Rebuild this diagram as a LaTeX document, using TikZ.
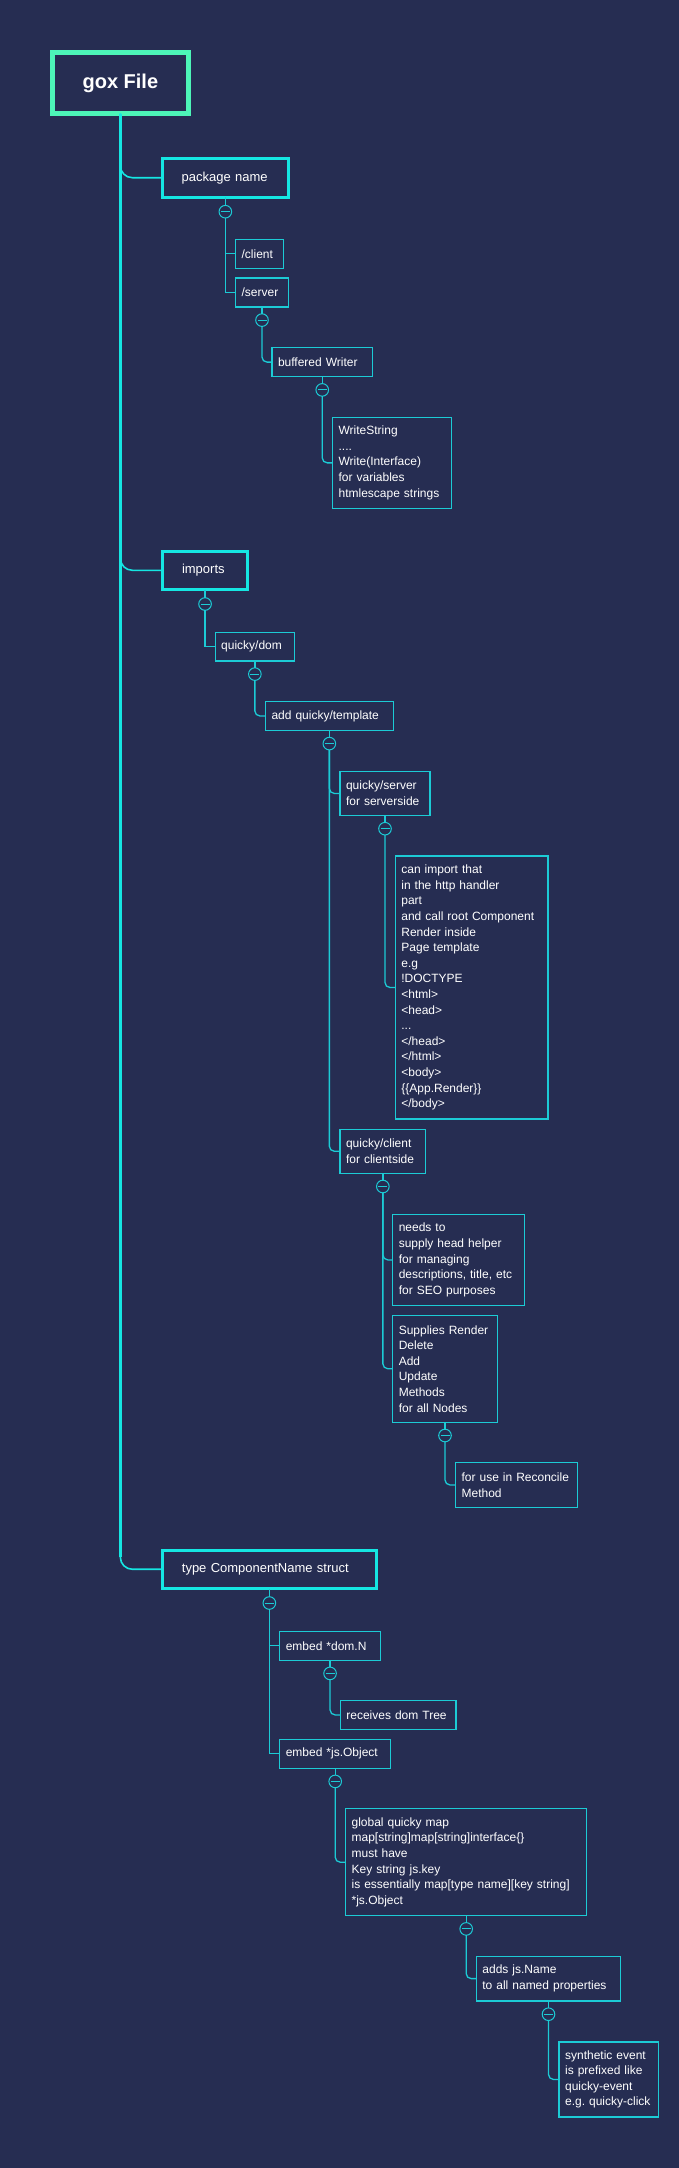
\documentclass[tikz,border=0pt]{standalone}
\usepackage{fontspec}
\setmainfont{Liberation Sans}
\usetikzlibrary{calc}
\definecolor{bg}{HTML}{262D52}
\definecolor{mint}{HTML}{4DF5B8}
\definecolor{cyanA}{HTML}{15E6E2}
\definecolor{tealB}{HTML}{1CCBD5}
\hyphenpenalty=10000
\exhyphenpenalty=10000
\frenchspacing
\begin{document}
\begin{tikzpicture}[x=1pt,y=-1pt,
  base/.style={fill=bg, text=white, anchor=north west, outer sep=0pt, align=left, inner ysep=0pt},
  rootbox/.style={draw=mint, line width=4.7pt, fill=bg, text=white, outer sep=0pt, inner sep=0pt,
    font=\fontsize{20}{24}\selectfont\bfseries},
  topbox/.style={base, draw=cyanA, line width=3pt, inner xsep=19.4pt, font=\fontsize{13}{16}\selectfont},
  subbox/.style={base, draw=tealB, line width=1.3pt, inner xsep=6pt, font=\fontsize{12}{15.6}\selectfont},
  tog/.style={circle, draw=tealB, line width=1pt, fill=bg, minimum size=12.6pt, inner sep=0pt, outer sep=0pt,
    path picture={\draw[tealB, line width=1pt] ($(path picture bounding box.center)+(-4.5,0)$) -- ($(path picture bounding box.center)+(4.5,0)$);}},
  trunk/.style={draw=cyanA, line width=3pt},
  branch/.style={draw=cyanA, line width=1.6pt, rounded corners=12pt},
  link/.style={draw=tealB, line width=1.3pt},
  rlink/.style={link, rounded corners=5pt},
]
\fill[bg] (0,0) rectangle (679,2168);
\useasboundingbox (0,0) rectangle (679,2168);

% root
\node[rootbox, minimum width=135.9pt, minimum height=61.2pt] (gox) at (120.35,83) {gox File};

% top level
\node[topbox, text width=87.5pt, minimum height=39pt] (pkg) at (162.2,158.2) {package name};
\node[topbox, text width=46.1pt, minimum height=38.4pt] (imp) at (162.6,551.1) {imports};
\node[topbox, text width=174.9pt, minimum height=38.5pt] (typ) at (162.5,1550) {type ComponentName struct};

% package subtree
\node[subbox, text width=36.1pt, minimum height=29pt] (client) at (235.6,239.3) {/client};
\node[subbox, text width=40.8pt, minimum height=29pt] (server) at (235.6,277.9) {/server};
\node[subbox, text width=88.5pt, minimum height=29.2pt] (bwriter) at (272,347.5) {buffered Writer};
\node[subbox, text width=106.7pt, minimum height=90.9pt] (wstring) at (332.6,417.4)
  {WriteString\\....\\Write(Interface)\\for variables\\htmlescape strings};

% imports subtree
\node[subbox, text width=67.3pt, minimum height=28.6pt] (qdom) at (215.2,632.3) {quicky/dom};
\node[subbox, text width=115.7pt, minimum height=28.9pt] (qtpl) at (265.5,701.5) {add quicky/template};
\node[subbox, text width=78pt, minimum height=44.1pt] (qserver) at (340,771.4) {quicky/server\\for serverside};
\node[subbox, text width=140.5pt, minimum height=262.8pt] (canimp) at (395.4,856.1)
  {can import that\\in the http handler\\part\\and call root Component\\Render inside\\Page template\\e.g\\!DOCTYPE\\<html>\\<head>\\...\\</head>\\</html>\\<body>\\\{\{App.Render\}\}\\</body>};
\node[subbox, text width=73.7pt, minimum height=44.1pt] (qclient) at (340,1129.2) {quicky/client\\for clientside};
\node[subbox, text width=119.7pt, minimum height=91.2pt] (needs) at (392.8,1214.3)
  {needs to\\supply head helper\\for managing\\descriptions, title, etc\\for SEO purposes};
\node[subbox, text width=92.4pt, minimum height=107.1pt] (supp) at (392.8,1315.2)
  {Supplies Render\\Delete\\Add\\Update\\Methods\\for all Nodes};
\node[subbox, text width=110.1pt, minimum height=44.7pt] (recon) at (455.6,1462.6) {for use in Reconcile\\Method};

% struct subtree
\node[subbox, text width=88.5pt, minimum height=29pt] (edom) at (279.8,1631.2) {embed *dom.N};
\node[subbox, text width=103.6pt, minimum height=29pt] (recv) at (340.4,1700.4) {receives dom Tree};
\node[subbox, text width=98.8pt, minimum height=29pt] (ejs) at (279.8,1739.2) {embed *js.Object};
\node[subbox, text width=229.2pt, minimum height=107pt] (glob) at (345.6,1808.7)
  {global quicky map\\map[string]map[string]interface\{\}\\must have\\Key string js.key\\is essentially map[type name][key string]\\{*}js.Object};
\node[subbox, text width=132.2pt, minimum height=44.8pt] (adds) at (476.4,1956.2) {adds js.Name\\to all named properties};
\node[subbox, text width=87.2pt, minimum height=75.1pt] (synth) at (559.1,2041.9)
  {synthetic event\\is prefixed like\\quicky-event\\e.g. quicky-click};

% toggles
\node[tog] (c1) at ($(pkg.south)+(0,14.5)$) {};
\node[tog] (c2) at ($(server.south)+(0,13.2)$) {};
\node[tog] (c3) at ($(bwriter.south)+(0,13.2)$) {};
\node[tog] (c4) at ($(imp.south)+(0,14.5)$) {};
\node[tog] (c5) at ($(qdom.south)+(0,13.2)$) {};
\node[tog] (c6) at ($(qtpl.south)+(0,13.2)$) {};
\node[tog] (c7) at ($(qserver.south)+(0,13.2)$) {};
\node[tog] (c8) at ($(qclient.south)+(0,13.2)$) {};
\node[tog] (c9) at ($(supp.south)+(0,13.2)$) {};
\node[tog] (c10) at ($(typ.south)+(0,14.5)$) {};
\node[tog] (c11) at ($(edom.south)+(0,13.2)$) {};
\node[tog] (c12) at ($(ejs.south)+(0,13.2)$) {};
\node[tog] (c13) at ($(glob.south)+(0,13.2)$) {};
\node[tog] (c14) at ($(adds.south)+(0,13.2)$) {};

% trunk and branches
\draw[branch] (gox.south) |- (pkg.west);
\draw[branch] (gox.south) |- (imp.west);
\draw[branch] (gox.south) |- (typ.west);
\draw[trunk] (gox.south) -- ($(gox.south |- typ.west)+(0,-12)$);

% box to toggle
\foreach \b/\c in {pkg/c1, server/c2, bwriter/c3, imp/c4, qdom/c5, qtpl/c6, qserver/c7, qclient/c8, supp/c9, typ/c10, edom/c11, ejs/c12, glob/c13, adds/c14}
  \draw[link] (\b.south) -- (\c.north);

% toggle to children
\draw[link] (c1.south) |- (client.west);
\draw[link] (c1.south) |- (server.west);
\draw[rlink] (c2.south) |- (bwriter.west);
\draw[rlink] (c3.south) |- (wstring.west);
\draw[link] (c4.south) |- (qdom.west);
\draw[rlink] (c5.south) |- (qtpl.west);
\draw[rlink] (c6.south) |- (qserver.west);
\draw[rlink] (c6.south) |- (qclient.west);
\draw[rlink] (c7.south) |- (canimp.west);
\draw[rlink] (c8.south) |- (needs.west);
\draw[rlink] (c8.south) |- (supp.west);
\draw[rlink] (c9.south) |- (recon.west);
\draw[link] (c10.south) |- (edom.west);
\draw[link] (c10.south) |- (ejs.west);
\draw[rlink] (c11.south) |- (recv.west);
\draw[rlink] (c12.south) |- (glob.west);
\draw[rlink] (c13.south) |- (adds.west);
\draw[rlink] (c14.south) |- (synth.west);
\end{tikzpicture}
\end{document}
